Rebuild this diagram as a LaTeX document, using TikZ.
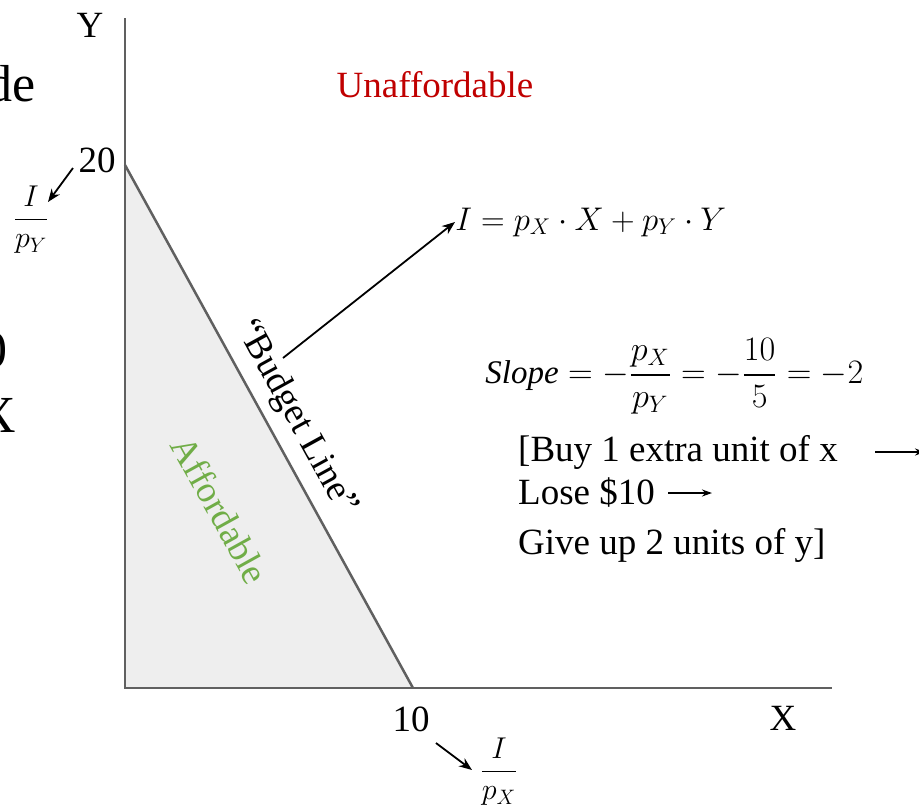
\documentclass[tikz,border=0pt]{standalone}
\usepackage{amsmath}
\usepackage{fontspec}
\setmainfont{Liberation Serif}
\usetikzlibrary{arrows.meta}
\definecolor{axisgray}{HTML}{606060}
\definecolor{fillgray}{HTML}{EEEEEE}
\definecolor{unred}{HTML}{C00000}
\definecolor{affgreen}{HTML}{70AD47}
\begin{document}
\begin{tikzpicture}[x=1pt,y=-1pt,
  txt/.style={inner sep=0pt,font=\fontsize{37}{44}\selectfont},
  bigtxt/.style={inner sep=0pt,font=\fontsize{52}{60}\selectfont},
  mtxt/.style={inner sep=0pt,font=\fontsize{20}{24}\selectfont,scale=1.58},
  stxt/.style={inner sep=0pt,font=\fontsize{20}{24}\selectfont,scale=1.65},
  frac/.style={inner sep=0pt,font=\fontsize{20}{24}\selectfont,scale=1.45},
  axisline/.style={draw=axisgray,line width=2.5pt},
  pointer/.style={draw=black,line width=1.8pt,-{Stealth[length=13pt,width=10pt]}}]
\useasboundingbox (0,0) rectangle (919,809);
\clip (0,0) rectangle (919,809);
% axes and budget set
\coordinate (O) at (125,688);
\coordinate (Ytop) at (125,18);
\coordinate (Xend) at (832,688);
\coordinate (A) at (125,165);
\coordinate (B) at (413,688);
\fill[fillgray] (O) -- (A) -- (B) -- cycle;
\draw[axisline] (A) -- (B);
\draw[axisline] (Ytop) -- (O) -- (Xend);
% cut-off slide text at the left edge
\node[bigtxt,anchor=east] (de) at (36,84) {de};
\node[bigtxt,anchor=east] (zero) at (8,350) {0};
\node[bigtxt,anchor=east] (xx) at (16,415) {X};
% labels
\node[txt] (ylab) at (90,25) {Y};
\node[txt] (xlab) at (783,718) {X};
\node[txt] (twenty) at (97,160) {20};
\node[txt] (ten) at (411,719) {10};
\node[frac] (ipy) at (31,220) {$\displaystyle\frac{I}{p_Y}$};
\node[frac] (ipx) at (499,772) {$\displaystyle\frac{I}{p_X}$};
\coordinate (tw) at (73,168);
\coordinate (twe) at (48,202);
\draw[pointer] (tw) -- (twe);
\coordinate (tn) at (436,743);
\coordinate (tne) at (472,770);
\draw[pointer] (tn) -- (tne);
\node[txt,text=unred] (unaff) at (435,85) {Unaffordable};
\node[txt,text=affgreen,rotate=-61] (aff) at (220,510) {Affordable};
\node[txt,rotate=-61.2] (bl) at (296,418) {“Budget Line”};
\node[mtxt,anchor=west] (eq) at (455,222) {$I = p_X\cdot X + p_Y\cdot Y$};
\coordinate (blp) at (283,358);
\draw[pointer] (blp) -- (eq.west);
\node[stxt,anchor=west] (slope) at (485,376) {$\mathit{Slope} = -\dfrac{p_X}{p_Y} = -\dfrac{10}{5} = -2$};
\node[txt,anchor=west] (l1) at (518,452) {[Buy 1 extra unit of x};
\node[txt,anchor=west] (l2) at (518,493) {Lose \$10};
\node[txt,anchor=west] (l3) at (518,545) {Give up 2 units of y]};
\coordinate (a1s) at (875,452);
\coordinate (a1e) at (925,452);
\draw[pointer,-{Stealth[length=10pt,width=7pt]}] (a1s) -- (a1e);
\coordinate (a2s) at (668,493);
\coordinate (a2e) at (712,493);
\draw[pointer,-{Stealth[length=10pt,width=7pt]}] (a2s) -- (a2e);
\end{tikzpicture}
\end{document}
